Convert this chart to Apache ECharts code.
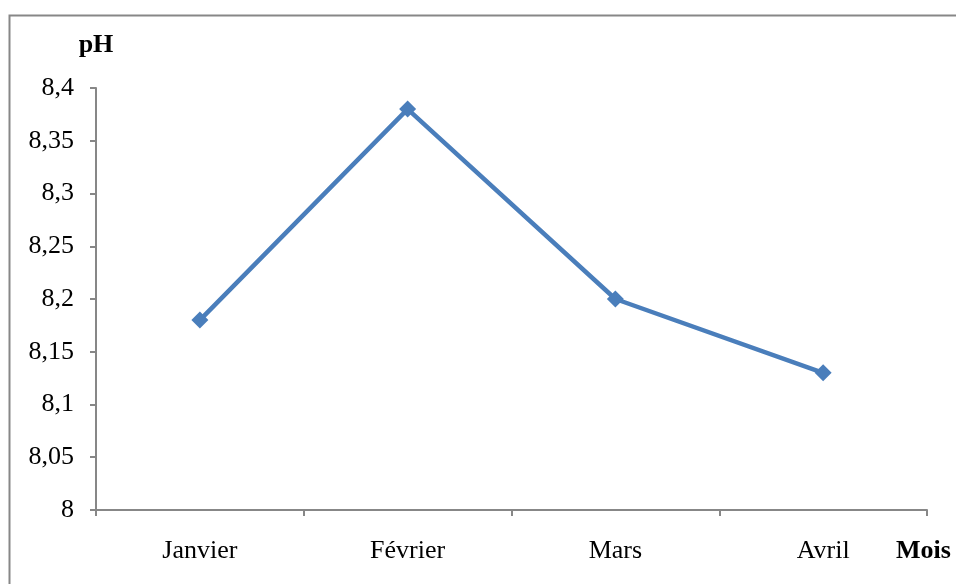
<!DOCTYPE html>
<html><head><meta charset="utf-8">
<script src="https://cdn.jsdelivr.net/npm/echarts@6/dist/echarts.min.js"></script>
<style>html,body{margin:0;padding:0;background:#fff}#c{width:956px;height:584px}</style>
</head><body><div id="c"></div>
<script>
var categories = ['Janvier', 'Février', 'Mars', 'Avril'];
var phValues = [8.18, 8.38, 8.2, 8.13];
var yMin = 8, yMax = 8.4, yStep = 0.05;

var chart = echarts.init(document.getElementById('c'));
var font = '"Liberation Serif", "Times New Roman", serif';
chart.setOption({
  animation: false,
  graphic: [{type:'rect', shape:{x:9.5,y:15.5,width:1000,height:1000}, style:{fill:'none', stroke:'#878787', lineWidth:2}, silent:true}],
  grid: {left: 96, right: 29, top: 88, bottom: 74},
  xAxis: {
    type: 'category', data: categories, boundaryGap: true,
    name: 'Mois', nameLocation: 'end', nameGap: 0,
    nameTextStyle: {fontFamily: font, fontWeight: 'bold', fontSize: 26, color: '#000', padding: [28, 0, 0, -31], align: 'left', verticalAlign: 'top'},
    axisLine: {lineStyle: {color: '#878787', width: 2}},
    axisTick: {show: true, length: 6, lineStyle: {color: '#878787', width: 2}},
    axisLabel: {fontFamily: font, fontSize: 26, color: '#000', margin: 28}
  },
  yAxis: {
    type: 'value', min: yMin, max: yMax, interval: yStep,
    name: 'pH', nameLocation: 'end', nameGap: 0,
    nameTextStyle: {fontFamily: font, fontWeight: 'bold', fontSize: 26, color: '#000', padding: [0, 0, 30, 0]},
    axisLine: {show: true, lineStyle: {color: '#878787', width: 2}},
    axisTick: {show: true, length: 6, lineStyle: {color: '#878787', width: 2}},
    splitLine: {show: false},
    axisLabel: {fontFamily: font, fontSize: 26, color: '#000', margin: 22,
      formatter: function (v) { return String(Math.round(v * 100) / 100).replace('.', ','); }}
  },
  series: [{
    type: 'line', data: phValues,
    symbol: 'diamond', symbolSize: 17,
    lineStyle: {color: '#4a7ebb', width: 4.5},
    itemStyle: {color: '#4a7ebb'}
  }]
});
</script></body></html>
